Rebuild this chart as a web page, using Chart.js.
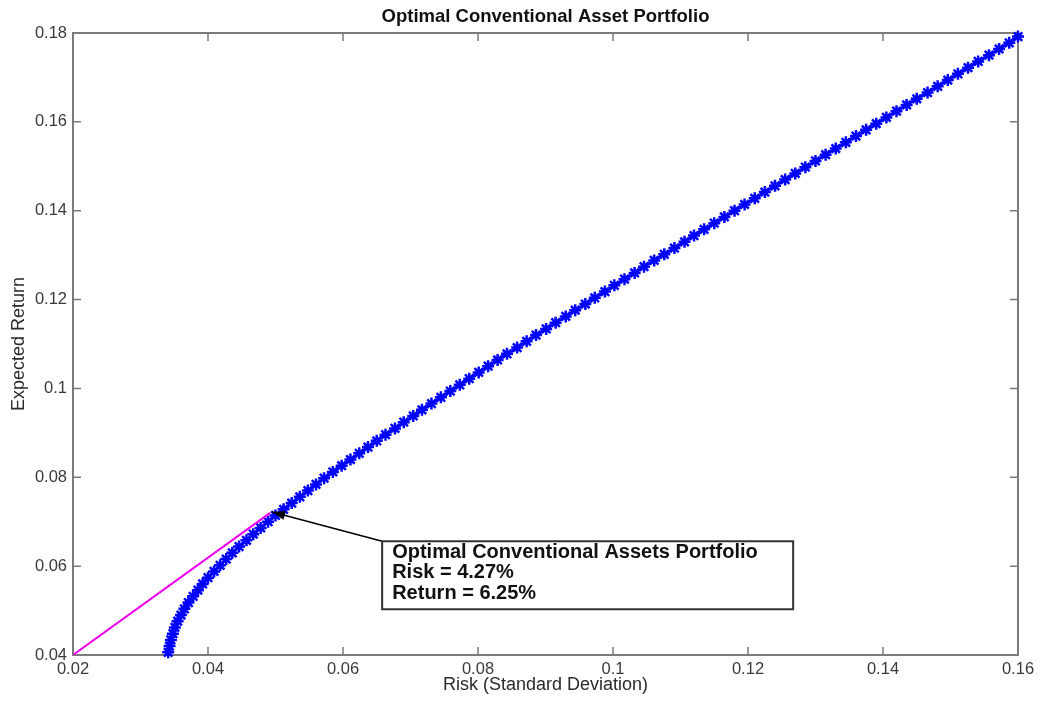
<!DOCTYPE html>
<html>
<head>
<meta charset="utf-8">
<script src="https://cdn.jsdelivr.net/npm/chart.js@4.4.1/dist/chart.umd.min.js"></script>
<style>
  html, body { margin: 0; padding: 0; background: #fff; }
  canvas { display: block; }
</style>
</head>
<body>
<canvas id="frontier" width="1042" height="701"></canvas>
<script>
'use strict';

// ── Data ──────────────────────────────────────────────────────────
const RISK = [
  0.0341, 0.0343, 0.0345, 0.0348, 0.0351, 0.0355, 0.0360, 0.0365, 0.0371, 0.0378,
  0.0385, 0.0392, 0.0400, 0.0409, 0.0418, 0.0427, 0.0436, 0.0446, 0.0457, 0.0467,
  0.0478, 0.0489, 0.0500, 0.0512, 0.0524, 0.0536, 0.0548, 0.0560, 0.0572, 0.0585,
  0.0598, 0.0611, 0.0624, 0.0637, 0.0650, 0.0663, 0.0677, 0.0690, 0.0704, 0.0717,
  0.0731, 0.0745, 0.0759, 0.0773, 0.0787, 0.0801, 0.0815, 0.0829, 0.0843, 0.0858,
  0.0872, 0.0886, 0.0901, 0.0915, 0.0930, 0.0944, 0.0959, 0.0973, 0.0988, 0.1002,
  0.1017, 0.1032, 0.1046, 0.1061, 0.1076, 0.1091, 0.1106, 0.1120, 0.1135, 0.1150,
  0.1165, 0.1180, 0.1195, 0.1210, 0.1225, 0.1240, 0.1255, 0.1270, 0.1285, 0.1300,
  0.1315, 0.1330, 0.1345, 0.1360, 0.1375, 0.1390, 0.1405, 0.1420, 0.1435, 0.1450,
  0.1466, 0.1481, 0.1496, 0.1511, 0.1526, 0.1541, 0.1557, 0.1572, 0.1587, 0.1600,
];
const RETURN = [
  0.0406, 0.0420, 0.0434, 0.0448, 0.0462, 0.0476, 0.0490, 0.0504, 0.0518, 0.0532,
  0.0546, 0.0560, 0.0574, 0.0588, 0.0602, 0.0616, 0.0630, 0.0644, 0.0658, 0.0672,
  0.0686, 0.0700, 0.0714, 0.0728, 0.0742, 0.0756, 0.0770, 0.0784, 0.0798, 0.0812,
  0.0826, 0.0840, 0.0854, 0.0868, 0.0882, 0.0896, 0.0910, 0.0924, 0.0938, 0.0952,
  0.0966, 0.0980, 0.0994, 0.1008, 0.1022, 0.1036, 0.1050, 0.1064, 0.1078, 0.1092,
  0.1106, 0.1120, 0.1134, 0.1148, 0.1162, 0.1176, 0.1190, 0.1204, 0.1218, 0.1232,
  0.1246, 0.1260, 0.1274, 0.1288, 0.1302, 0.1316, 0.1330, 0.1344, 0.1358, 0.1372,
  0.1386, 0.1400, 0.1414, 0.1428, 0.1442, 0.1456, 0.1470, 0.1484, 0.1498, 0.1512,
  0.1526, 0.1540, 0.1554, 0.1568, 0.1582, 0.1596, 0.1610, 0.1624, 0.1638, 0.1652,
  0.1666, 0.1680, 0.1694, 0.1708, 0.1722, 0.1736, 0.1750, 0.1764, 0.1778, 0.1792,
];
const CML_RISK   = [0.0200, 0.0492];
const CML_RETURN = [0.0400, 0.0720];

const X_TICKS = [0.02, 0.04, 0.06, 0.08, 0.10, 0.12, 0.14, 0.16];
const Y_TICKS = [0.04, 0.06, 0.08, 0.10, 0.12, 0.14, 0.16, 0.18];

const NOTE_LINES  = ['Optimal Conventional Assets Portfolio', 'Risk = 4.27%', 'Return = 6.25%'];
const NOTE_TIP    = { x: 0.0495, y: 0.0722 };
const NOTE_ANCHOR = { x: 0.0658, y: 0.0656 };

const FONT = "'Liberation Sans', Arial, Helvetica, sans-serif";
const AXIS_GRAY = '#7a7a7a';

// ── Plugins ───────────────────────────────────────────────────────
const frame = {
  id: 'frame',
  beforeDatasetsDraw(chart) {
    const { ctx, chartArea: a, scales: { x, y } } = chart;
    const tl = 8;
    ctx.save();
    ctx.strokeStyle = AXIS_GRAY;
    ctx.lineWidth = 1.5;
    ctx.beginPath();
    X_TICKS.forEach(v => {
      const px = x.getPixelForValue(v);
      ctx.moveTo(px, a.bottom); ctx.lineTo(px, a.bottom - tl);
      ctx.moveTo(px, a.top);    ctx.lineTo(px, a.top + tl);
    });
    Y_TICKS.forEach(v => {
      const py = y.getPixelForValue(v);
      ctx.moveTo(a.left, py);  ctx.lineTo(a.left + tl, py);
      ctx.moveTo(a.right, py); ctx.lineTo(a.right - tl, py);
    });
    ctx.stroke();
    ctx.lineWidth = 2;
    ctx.strokeRect(a.left, a.top, a.right - a.left, a.bottom - a.top);
    ctx.restore();
  },
};

const note = {
  id: 'note',
  afterDatasetsDraw(chart) {
    const { ctx, scales: { x, y } } = chart;
    const tx = x.getPixelForValue(NOTE_TIP.x),    ty = y.getPixelForValue(NOTE_TIP.y);
    const bx = x.getPixelForValue(NOTE_ANCHOR.x), by = y.getPixelForValue(NOTE_ANCHOR.y);
    const ang = Math.atan2(ty - by, tx - bx);
    const hl = 13, hw = 4.5;
    ctx.save();
    ctx.strokeStyle = '#000';
    ctx.lineWidth = 1.5;
    ctx.beginPath(); ctx.moveTo(bx, by); ctx.lineTo(tx, ty); ctx.stroke();
    ctx.fillStyle = '#000';
    ctx.beginPath();
    ctx.moveTo(tx, ty);
    ctx.lineTo(tx - hl * Math.cos(ang) + hw * Math.sin(ang), ty - hl * Math.sin(ang) - hw * Math.cos(ang));
    ctx.lineTo(tx - hl * Math.cos(ang) - hw * Math.sin(ang), ty - hl * Math.sin(ang) + hw * Math.cos(ang));
    ctx.closePath();
    ctx.fill();

    ctx.fillStyle = '#fff';
    ctx.fillRect(bx, by, 411, 68);
    ctx.strokeStyle = '#333';
    ctx.lineWidth = 2;
    ctx.strokeRect(bx, by, 411, 68);
    ctx.fillStyle = '#111';
    ctx.font = 'bold 20px ' + FONT;
    ctx.textBaseline = 'middle';
    NOTE_LINES.forEach((t, i) => ctx.fillText(t, bx + 10, by + 11 + i * 20.5));
    ctx.restore();
  },
};

// ── Chart ─────────────────────────────────────────────────────────
const fmt = v => String(+(+v).toFixed(2));

new Chart(document.getElementById('frontier'), {
  type: 'scatter',
  data: {
    datasets: [
      {
        data: CML_RISK.map((r, i) => ({ x: r, y: CML_RETURN[i] })),
        showLine: true,
        borderColor: '#f000f0',
        borderWidth: 2,
        pointRadius: 0,
        order: 0,
      },
      {
        data: RISK.map((r, i) => ({ x: r, y: RETURN[i] })),
        showLine: true,
        borderColor: '#0000ff',
        backgroundColor: '#0000ff',
        borderWidth: 3,
        pointStyle: 'star',
        pointRadius: 6,
        pointBorderWidth: 2.5,
        pointBorderColor: '#0000ff',
        clip: false,
        order: 1,
      },
    ],
  },
  options: {
    responsive: false,
    animation: false,
    layout: { padding: { left: 0, right: 24, top: 0, bottom: 0 } },
    scales: {
      x: {
        type: 'linear',
        min: 0.02, max: 0.16,
        afterBuildTicks: s => { s.ticks = X_TICKS.map(v => ({ value: v })); },
        afterFit: s => { s.height = 46; },
        grid: { display: false, drawTicks: false },
        border: { display: false },
        ticks: { color: '#3a3a3a', font: { family: FONT, size: 16.5 }, padding: 5, maxRotation: 0, autoSkip: false, callback: fmt },
        title: { display: true, text: 'Risk (Standard Deviation)', color: '#2a2a2a', font: { family: FONT, size: 18 }, padding: { top: 0, bottom: 5 } },
      },
      y: {
        type: 'linear',
        min: 0.04, max: 0.18,
        afterBuildTicks: s => { s.ticks = Y_TICKS.map(v => ({ value: v })); },
        afterFit: s => { s.width = 73; },
        grid: { display: false, drawTicks: false },
        border: { display: false },
        ticks: { color: '#3a3a3a', font: { family: FONT, size: 16.5 }, padding: 6, autoSkip: false, callback: fmt },
        title: { display: true, text: 'Expected Return', color: '#2a2a2a', font: { family: FONT, size: 18 }, padding: { top: 8, bottom: 0 } },
      },
    },
    plugins: {
      legend: { display: false },
      tooltip: { enabled: false },
      title: {
        display: true,
        fullSize: false,
        text: 'Optimal Conventional Asset Portfolio',
        color: '#111',
        font: { family: FONT, size: 18.5, weight: 'bold', lineHeight: 1.2 },
        padding: { top: 6, bottom: 4.8 },
      },
    },
  },
  plugins: [frame, note],
});
</script>
</body>
</html>
